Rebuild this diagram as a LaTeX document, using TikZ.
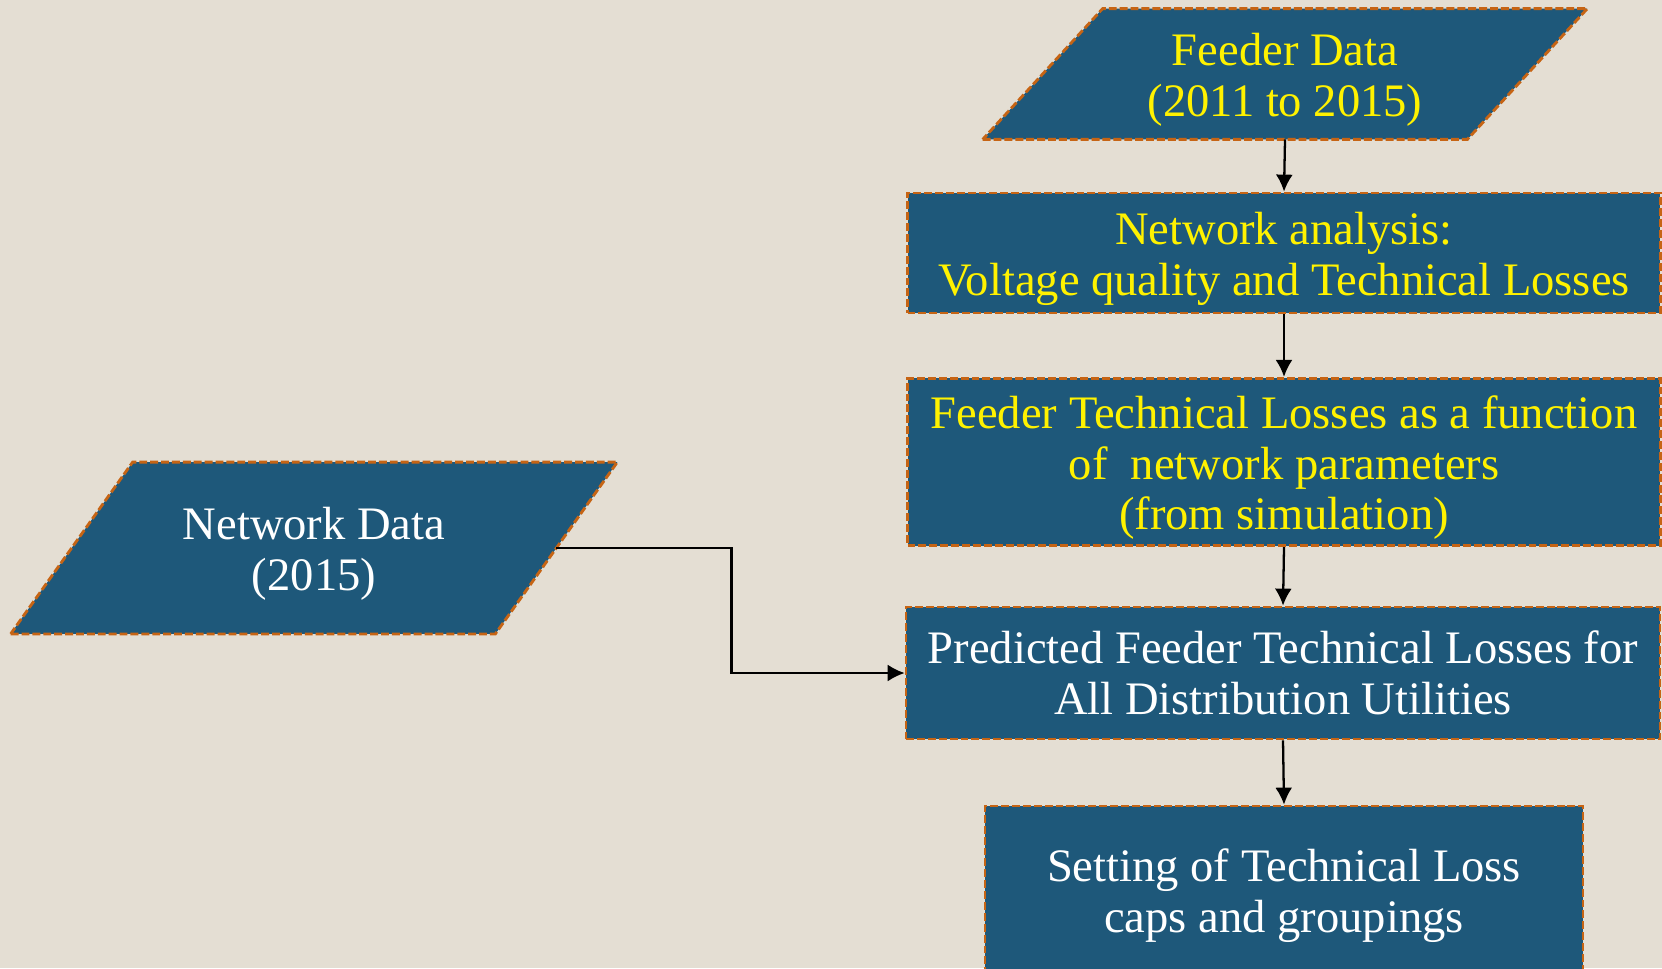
\documentclass[tikz,border=0pt]{standalone}
\usepackage{fontspec}
\setmainfont{Liberation Serif}
\usetikzlibrary{arrows.meta,backgrounds}

\definecolor{boxblue}{RGB}{30,88,122}
\definecolor{paper}{RGB}{228,222,211}
\definecolor{dashorange}{RGB}{198,100,20}

% taller first line, so the text sits a little lower in its box
\newcommand{\firststrut}{\rule{0pt}{25pt}}

\tikzset{
	dashedge/.style = {
		draw = dashorange,
		dash pattern = on 4.5pt off 1.7pt,
		line width = 1.6pt,
		fill = boxblue,
	},
	flowbox/.style = {
		dashedge,
		align = center,
		font = \fontsize{26.5}{29}\selectfont,
	},
	datatext/.style = {
		flowbox,
		draw = none,
		fill = none,
	},
	flowline/.style = {
		-{Latex[length = 3.4mm, width = 3.4mm]},
		line width = 1.3pt,
	},
}

\begin{document}
\begin{tikzpicture}[x = 0.02cm, y = -0.02cm]
	
	\useasboundingbox (0,0) rectangle (1662,968);
	
	\node[
		datatext,
		text = yellow,
		minimum width = 9.64cm,
		minimum height = 2.56cm,
		name = feeder,
	] at (1285,74) {\firststrut Feeder Data\\(2011 to 2015)};
	
	\node[
		flowbox,
		text = yellow,
		minimum width = 15.06cm,
		minimum height = 2.4cm,
		name = analysis,
	] at (1284,253) {\firststrut Network analysis:\\Voltage quality and Technical Losses};
	
	\node[
		flowbox,
		text = yellow,
		minimum width = 15.06cm,
		minimum height = 3.22cm,
		name = simulation,
	] at (1284,462) {\firststrut Feeder Technical Losses as a function\\of~~network parameters\\(from simulation)};
	
	\node[
		flowbox,
		text = white,
		minimum width = 15.08cm,
		minimum height = 2.64cm,
		name = predicted,
	] at (1283,673) {Predicted Feeder Technical Losses for\\All Distribution Utilities};
	
	\node[
		flowbox,
		text = white,
		minimum width = 11.96cm,
		minimum height = 3.36cm,
		name = caps,
	] at (1284,890) {\firststrut Setting of Technical Loss\\caps and groupings};
	
	\node[
		datatext,
		text = white,
		minimum width = 9.64cm,
		minimum height = 3.38cm,
		name = network,
	] at (314,548) {\firststrut Network Data\\(2015)};
	
	% slanted data boxes and the paper behind everything
	\begin{scope}[on background layer]
		\fill[paper] (0,0) rectangle (1662,968);
		\path[dashedge]
			([xshift = -1.2cm]feeder.south west) -- ([xshift = -1.2cm]feeder.south east)
			-- ([xshift = 1.2cm]feeder.north east) -- ([xshift = 1.2cm]feeder.north west) -- cycle;
		\path[dashedge]
			([xshift = -1.22cm]network.south west) -- ([xshift = -1.22cm]network.south east)
			-- ([xshift = 1.22cm]network.north east) -- ([xshift = 1.22cm]network.north west) -- cycle;
	\end{scope}
	
	\draw[flowline] (feeder.south) -- (analysis.north);
	\draw[flowline] (analysis.south) -- (simulation.north);
	\draw[flowline] (simulation.south) -- (predicted.north);
	\draw[flowline] (predicted.south) -- (caps.north);
	\draw[flowline]
		(network.east) -- ++(175,0) |- (predicted.west);
	
\end{tikzpicture}
\end{document}
